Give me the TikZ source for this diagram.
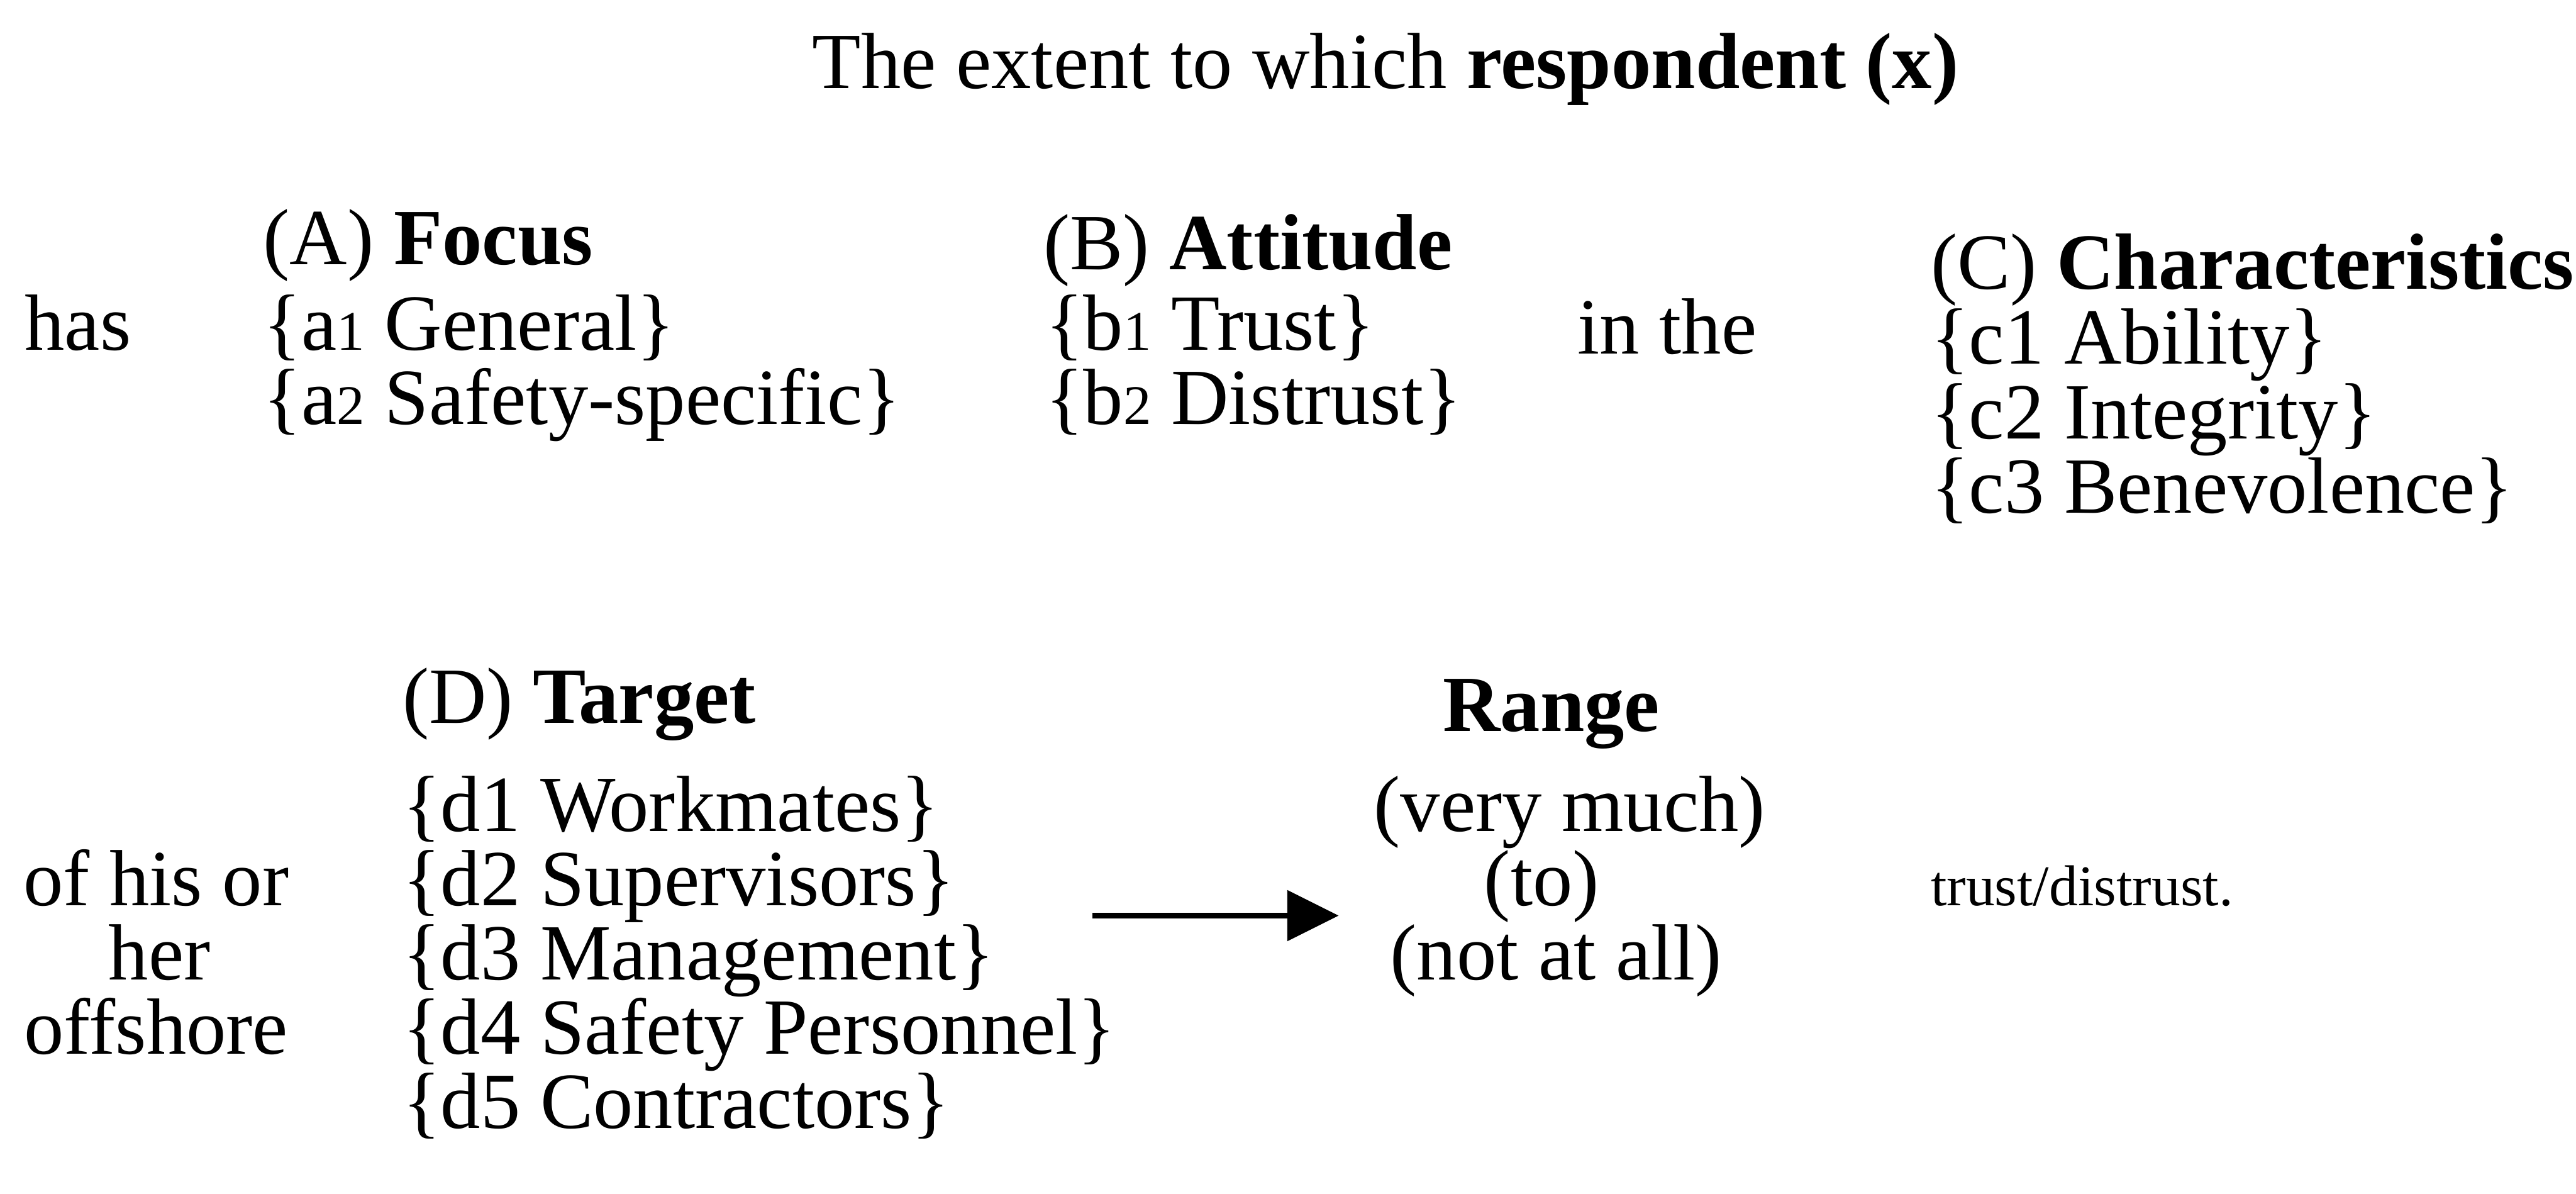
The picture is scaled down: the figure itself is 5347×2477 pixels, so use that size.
\documentclass[tikz,border=0pt]{standalone}
\usepackage{fontspec}
\setmainfont{Liberation Serif}
\usetikzlibrary{arrows.meta}

\newcommand{\sm}[1]{{\fontsize{33}{33}\selectfont #1}}
\tikzset{
  txt/.style={anchor=base west, inner sep=0pt, font=\fontsize{47}{56}\selectfont},
  ctr/.style={txt, anchor=base},
  small/.style={txt, font=\fontsize{34}{40}\selectfont},
}

\begin{document}
\begin{tikzpicture}[x=0.01cm, y=-0.01cm]
 \useasboundingbox (0,0) rectangle (5347,2477);
 \node[ctr] (title) at (2876,184) {The extent to which \textbf{respondent (x)}};
 \node[txt] (has) at (51,726) {has};
 \node[txt] (focus) at (546,549) {(A) \textbf{Focus}};
 \foreach \t [count=\i] in {{\{a\sm1 General\}},{\{a\sm2 Safety-specific\}}}
    \node[txt] (a\i) at (546,{726+155*(\i-1)}) {\t};
 \node[txt] (attitude) at (2165,559) {(B) \textbf{Attitude}};
 \foreach \t [count=\i] in {{\{b\sm1 Trust\}},{\{b\sm2 Distrust\}}}
    \node[txt] (b\i) at (2169,{726+155*(\i-1)}) {\t};
 \node[txt] (inthe) at (3274,734) {in the};
 \node[txt] (charac) at (4007,600) {(C) \textbf{Characteristics}};
 \foreach \t [count=\i] in {Ability,Integrity,Benevolence}
    \node[txt] (c\i) at (4007,{755+155*(\i-1)}) {\{c\i\ \t\}};
 \node[txt] (target) at (835,1500) {(D) \textbf{Target}};
 \foreach \t [count=\i] in {Workmates,Supervisors,Management,Safety Personnel,Contractors}
    \node[txt] (d\i) at (835,{1725+154*(\i-1)}) {\{d\i\ \t\}};
 \node[ctr] (ofhis) at (324,1879) {of his or};
 \node[ctr] (her) at (331,2033) {her};
 \node[ctr] (offshore) at (324,2187) {offshore};
 \node[ctr] (range) at (3220,1518) {\textbf{Range}};
 \node[ctr] (verymuch) at (3258,1725) {(very much)};
 \node[ctr] (to) at (3200,1879) {(to)};
 \node[ctr] (notatall) at (3230,2033) {(not at all)};
 \node[small] (trust) at (4007,1879) {trust/distrust.};
 \coordinate (arrs) at (2268,1900);
 \coordinate (arre) at (2779,1900);
 \draw[-{Triangle[length=1.07cm,width=1.03cm]}, line width=3.7pt] (arrs) -- (arre);
\end{tikzpicture}
\end{document}
